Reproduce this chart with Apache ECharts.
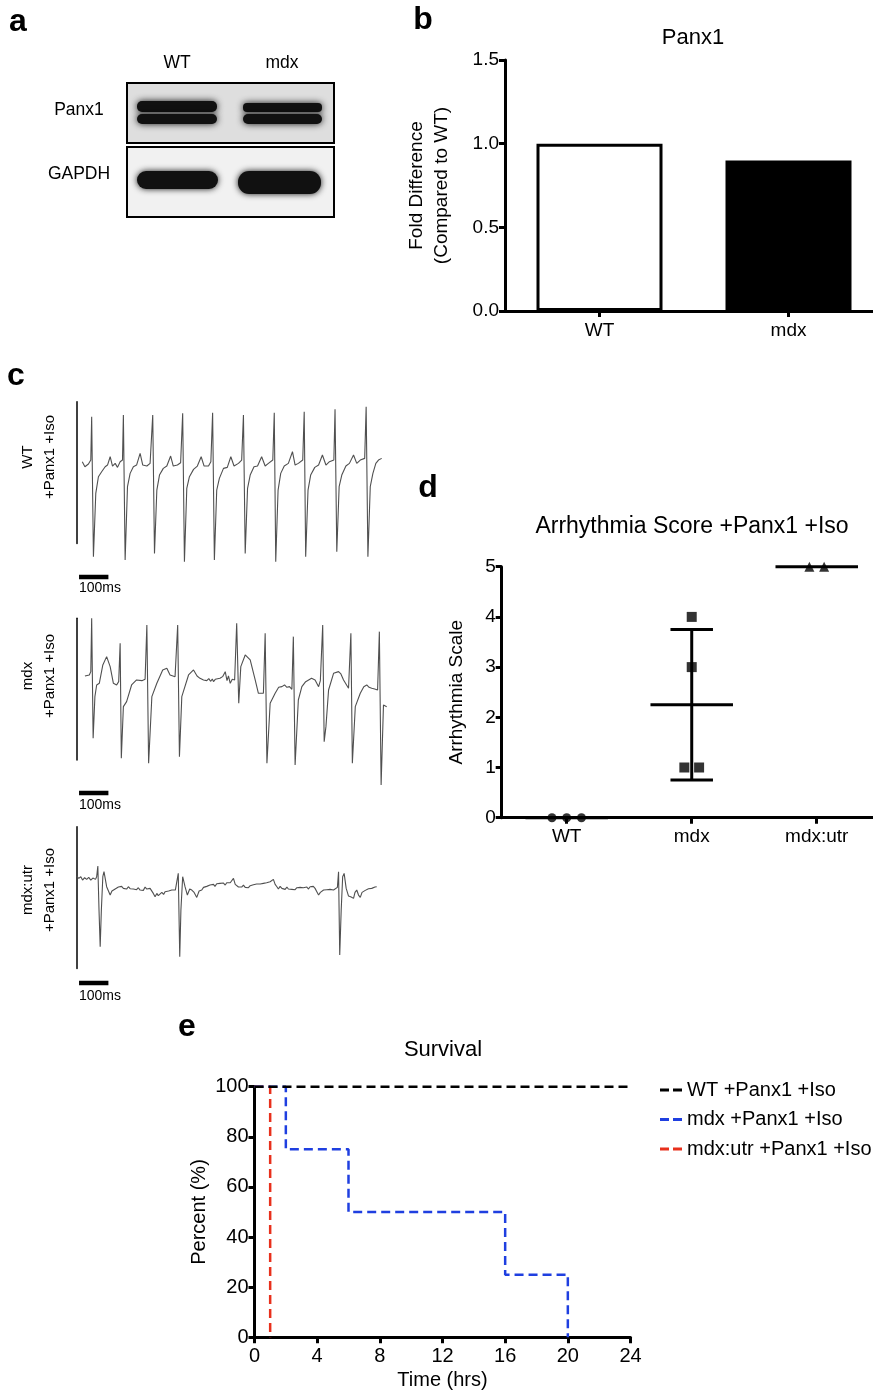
<!DOCTYPE html>
<html><head><meta charset="utf-8">
<script src="https://cdn.jsdelivr.net/npm/echarts@6.0.0/dist/echarts.min.js"></script>
<style>html,body{margin:0;padding:0;background:#fff}#c{width:873px;height:1393px}</style>
</head><body><div id="c"></div>
<script>
// ---------------- DATA ----------------
const blotLanes = ['WT', 'mdx'];
const blotProteins = ['Panx1', 'GAPDH'];

const panx1Categories = ['WT', 'mdx'];
const panx1Fold = [1.0, 0.9];
const panx1Ticks = [0, 0.5, 1.0, 1.5];

const ecgNames = ['WT', 'mdx', 'mdx:utr'];
const ecgCondition = '+Panx1 +Iso';
// [time (ms), amplitude (a.u.)]
const ecgWT = [[19,0.05],[28,-0.10],[40,-0.02],[48,0.10],[51,1.40],[57,-2.80],[65,-0.90],[74,-0.40],[85,-0.25],[97,-0.10],[105,-0.05],[114,0.20],[122,-0.08],[131,0.00],[139,-0.12],[148,0.05],[156,0.10],[159,1.45],[165,-2.90],[173,-0.70],[182,-0.30],[193,-0.10],[204,-0.05],[216,0.30],[225,-0.05],[239,-0.08],[250,0.00],[256,0.05],[259,1.45],[265,-2.70],[273,-0.80],[282,-0.35],[295,-0.15],[307,-0.08],[320,0.22],[329,-0.08],[343,-0.05],[354,0.02],[358,0.05],[361,1.50],[367,-2.95],[375,-0.75],[384,-0.40],[398,-0.18],[411,-0.08],[424,0.20],[434,-0.08],[449,-0.08],[457,0.05],[460,0.05],[463,1.52],[469,-2.90],[477,-0.80],[486,-0.45],[500,-0.15],[513,-0.12],[525,0.20],[536,-0.08],[551,0.00],[562,0.10],[568,1.45],[574,-2.70],[582,-0.75],[591,-0.35],[604,-0.10],[616,-0.08],[630,0.20],[642,-0.08],[653,0.00],[668,0.10],[673,1.52],[678,-2.95],[686,-0.80],[695,-0.30],[707,-0.08],[721,0.00],[735,0.35],[744,-0.05],[755,0.00],[770,0.10],[775,1.55],[780,-2.80],[788,-0.80],[797,-0.35],[811,-0.12],[824,-0.05],[837,0.25],[849,-0.05],[861,0.05],[876,0.10],[880,1.62],[886,-2.65],[894,-0.70],[903,-0.35],[917,-0.08],[929,0.00],[943,0.25],[954,0.00],[966,0.10],[981,0.15],[986,1.70],[992,-2.80],[1000,-0.70],[1009,-0.30],[1019,0.00],[1028,0.10],[1039,0.15]];
const ecgMdx = [[28,0.12],[43,0.15],[48,0.25],[51,1.85],[56,-1.75],[62,-0.50],[68,-0.15],[77,-0.10],[89,0.45],[102,0.70],[114,0.40],[125,-0.10],[136,-0.15],[143,-0.05],[148,1.10],[152,-2.35],[159,-0.80],[170,-0.65],[187,-0.15],[204,0.00],[222,-0.02],[233,0.02],[239,1.65],[245,-2.50],[256,-0.50],[273,-0.10],[293,0.30],[307,0.35],[318,0.15],[335,0.10],[341,0.12],[344,1.65],[350,-2.30],[358,-0.50],[381,0.15],[398,0.30],[410,0.12],[420,0.05],[432,0.00],[443,-0.02],[450,0.04],[456,-0.04],[462,0.03],[466,-0.05],[472,0.02],[478,-0.03],[488,0.05],[497,0.10],[506,0.25],[512,-0.02],[517,0.12],[523,-0.10],[530,0.02],[538,0.00],[545,1.70],[552,-0.70],[559,0.40],[574,0.75],[591,0.60],[608,0.00],[619,-0.40],[636,-0.40],[642,1.40],[648,-2.50],[659,-0.70],[676,-0.40],[688,-0.22],[699,-0.20],[708,-0.15],[716,-0.22],[725,-0.20],[733,-0.28],[738,1.30],[744,-2.55],[755,-0.60],[767,-0.20],[780,-0.05],[790,0.00],[800,0.05],[812,0.00],[818,-0.05],[824,-0.20],[830,-0.02],[835,0.00],[838,1.65],[843,-1.85],[849,-1.40],[858,-0.30],[875,0.20],[892,0.25],[900,0.18],[909,0.00],[926,-0.25],[932,-0.30],[934,1.40],[939,-2.50],[949,-0.80],[966,-0.40],[978,-0.20],[988,-0.15],[996,-0.22],[1005,-0.25],[1015,-0.27],[1025,-0.30],[1031,1.45],[1037,-3.15],[1045,-0.75],[1056,-0.80]];
const ecgUtr = [[0,0.37],[7,0.30],[14,0.35],[20,0.25],[27,0.32],[34,0.27],[41,0.33],[48,0.25],[55,0.31],[64,0.27],[68,0.35],[72,0.67],[76,-0.65],[80,-1.75],[84,-0.65],[89,0.35],[93,0.50],[102,0.05],[114,-0.20],[120,-0.08],[125,-0.12],[131,-0.02],[136,-0.06],[142,0.04],[148,0.00],[153,0.06],[159,0.00],[165,0.04],[170,-0.02],[176,0.05],[182,-0.01],[187,0.04],[193,-0.02],[199,0.02],[204,-0.04],[210,0.02],[216,-0.05],[222,-0.02],[227,-0.06],[233,0.04],[239,-0.02],[245,0.03],[250,0.00],[256,0.03],[261,-0.15],[267,-0.25],[273,-0.15],[278,-0.22],[284,-0.18],[290,-0.12],[296,-0.18],[301,-0.10],[307,-0.15],[313,-0.08],[318,-0.12],[324,-0.05],[329,-0.09],[336,-0.05],[341,-0.05],[346,0.45],[351,-2.05],[355,-0.65],[361,0.35],[369,0.05],[377,-0.20],[385,-0.02],[392,-0.05],[400,-0.12],[409,-0.27],[417,-0.08],[426,-0.05],[432,0.03],[438,-0.02],[443,0.06],[449,0.02],[454,0.10],[460,0.05],[466,0.12],[471,0.06],[477,0.14],[483,0.09],[488,0.15],[494,0.10],[500,0.16],[506,0.10],[511,0.17],[517,0.12],[523,0.17],[528,0.12],[534,0.30],[540,0.12],[545,0.10],[551,0.04],[557,0.09],[562,0.04],[568,0.10],[574,0.03],[579,0.07],[585,0.02],[591,0.08],[596,0.04],[602,0.11],[608,0.06],[613,0.13],[619,0.08],[625,0.13],[630,0.09],[636,0.15],[642,0.10],[647,0.17],[653,0.12],[659,0.20],[664,0.16],[670,0.27],[676,0.12],[682,0.05],[687,-0.02],[693,0.06],[699,0.00],[704,0.03],[710,-0.03],[716,0.04],[721,-0.02],[727,0.03],[733,-0.03],[738,0.02],[744,-0.04],[750,0.02],[755,-0.03],[761,0.03],[767,-0.02],[772,0.02],[778,-0.03],[784,0.04],[789,-0.02],[795,0.05],[801,0.00],[806,0.06],[812,0.00],[818,-0.10],[824,-0.20],[830,-0.12],[835,-0.15],[841,-0.05],[846,-0.10],[852,-0.04],[858,-0.08],[863,-0.03],[869,-0.07],[875,-0.05],[881,-0.01],[888,0.03],[892,0.50],[896,-2.00],[901,-0.65],[906,0.35],[911,0.45],[918,0.00],[926,-0.23],[935,-0.26],[943,-0.30],[948,-0.12],[954,-0.05],[960,-0.20],[966,-0.27],[972,-0.12],[977,-0.15],[983,-0.06],[988,-0.05],[994,-0.01],[1000,-0.06],[1005,0.00],[1011,-0.03],[1016,0.04],[1022,0.05]];
const ecgScaleBarMs = [8, 108];

const arrhythmiaGroups = ['WT', 'mdx', 'mdx:utr'];
const arrhythmiaWT = [0, 0, 0];
const arrhythmiaMdx = [4, 3, 1, 1];
const arrhythmiaUtr = [5, 5];
const arrhythmiaTicks = [0, 1, 2, 3, 4, 5];

const survivalNames = ['WT +Panx1 +Iso', 'mdx +Panx1 +Iso', 'mdx:utr +Panx1 +Iso'];
const survivalWTTime = [0, 24];
const survivalWTPct = [100, 100];
const survivalMdxTime = [0, 2, 6, 16, 20];
const survivalMdxPct = [100, 75, 50, 25, 0];
const survivalUtrTime = [0, 1];
const survivalUtrPct = [100, 0];
const survivalTimeTicks = [0, 4, 8, 12, 16, 20, 24];
const survivalPctTicks = [0, 20, 40, 60, 80, 100];

// ---------------- HELPERS ----------------
const FONT = 'Liberation Sans, Arial, sans-serif';
const BLACK = '#000';
function zip(a, b) { return a.map((v, i) => [v, b[i]]); }
function spread(values, center, step) {
  const counts = {}, idx = {};
  values.forEach(v => counts[v] = (counts[v] || 0) + 1);
  return values.map(v => {
    const n = counts[v]; const k = idx[v] || 0; idx[v] = k + 1;
    return [center + (k - (n - 1) / 2) * step, v];
  });
}
function stats(values) {
  const n = values.length;
  const m = values.reduce((a, b) => a + b, 0) / n;
  const sd = n > 1 ? Math.sqrt(values.reduce((a, b) => a + (b - m) * (b - m), 0) / (n - 1)) : 0;
  return [m, sd];
}
const axisLineS = { show: true, lineStyle: { color: BLACK, width: 3 } };
const axisTickS = { show: true, inside: false, length: 6, lineStyle: { color: BLACK, width: 3 } };
const labelS = (extra) => Object.assign({ color: BLACK, fontSize: 19, fontFamily: FONT }, extra || {});
const noSplit = { show: false };
function txt(x, y, text, size, opts) {
  return Object.assign({
    type: 'text', x: x, y: y,
    style: Object.assign({ text: text, fill: BLACK, font: (opts && opts.weight ? opts.weight + ' ' : '') + size + 'px ' + FONT,
      align: 'center', verticalAlign: 'middle' }, opts && opts.style || {})
  }, opts && opts.el || {});
}

// ---------------- LAYOUT ----------------
const grids = [
  { left: 505, top: 60, width: 378, height: 251 },          // b
  { left: 76.7, top: 401.7, width: 310, height: 141.7 },    // c WT
  { left: 76.7, top: 618.3, width: 310, height: 141.7 },    // c mdx
  { left: 76.7, top: 826.7, width: 310, height: 141.7 },    // c utr
  { left: 501.7, top: 566.7, width: 371.3, height: 251 },   // d
  { left: 254.5, top: 1086.7, width: 376, height: 250.6 }   // e
].map(g => Object.assign({ containLabel: false, outerBoundsMode: 'none' }, g));

const xAxes = [], yAxes = [], series = [];

// b
xAxes.push({ gridIndex: 0, type: 'category', data: panx1Categories, boundaryGap: true,
  axisLine: axisLineS, axisTick: Object.assign({ alignWithLabel: true }, axisTickS), axisLabel: labelS({ margin: 10 }), splitLine: noSplit });
yAxes.push({ gridIndex: 0, type: 'value', min: panx1Ticks[0], max: panx1Ticks[panx1Ticks.length - 1], interval: panx1Ticks[1] - panx1Ticks[0],
  axisLine: axisLineS, axisTick: axisTickS, axisLabel: labelS({ margin: 6, formatter: v => v.toFixed(1) }), splitLine: noSplit,
  name: 'Fold Difference\n(Compared to WT)', nameLocation: 'middle', nameGap: 51, nameRotate: 90,
  nameTextStyle: { color: BLACK, fontSize: 19, fontFamily: FONT, lineHeight: 25 } });
series.push({ type: 'bar', xAxisIndex: 0, yAxisIndex: 0, barWidth: 126, animation: false,
  data: panx1Fold.map((v, i) => ({ value: v, itemStyle: { color: i === 0 ? '#fff' : '#000', borderColor: BLACK, borderWidth: 3 } })) });

// c
const ecgData = [ecgWT, ecgMdx, ecgUtr];
const scaleBarLevel = [-3.41, -3.39, -2.84];
ecgData.forEach((d, i) => {
  const gi = i + 1;
  xAxes.push({ gridIndex: gi, type: 'value', min: 0, max: 1056, show: false });
  yAxes.push({ gridIndex: gi, type: 'value', min: -2.4, max: 1.85, offset: 19,
    axisLine: { show: true, lineStyle: { color: BLACK, width: 1.5 } }, axisTick: { show: false }, axisLabel: { show: false }, splitLine: noSplit });
  series.push({ type: 'line', xAxisIndex: gi, yAxisIndex: gi, data: d, showSymbol: false, symbol: 'none', clip: false, sampling: null,
    lineStyle: { color: '#505050', width: 1.1 }, animation: false });
  series.push({ type: 'line', xAxisIndex: gi, yAxisIndex: gi, data: ecgScaleBarMs.map(t => [t, scaleBarLevel[i]]), showSymbol: false, symbol: 'none', clip: false,
    lineStyle: { color: BLACK, width: 4.5, cap: 'butt' }, animation: false });
});

// d
const dGi = 4;
xAxes.push({ gridIndex: dGi, type: 'value', min: 0.48, max: 3.45,
  axisLine: axisLineS,
  axisTick: Object.assign({ customValues: [1, 2, 3] }, axisTickS),
  axisLabel: labelS({ margin: 10, customValues: [1, 2, 3], formatter: v => arrhythmiaGroups[Math.round(v) - 1] || '' }),
  splitLine: noSplit });
yAxes.push({ gridIndex: dGi, type: 'value', min: arrhythmiaTicks[0], max: arrhythmiaTicks[arrhythmiaTicks.length - 1], interval: 1,
  axisLine: axisLineS, axisTick: axisTickS, axisLabel: labelS({ margin: 6 }), splitLine: noSplit,
  name: 'Arrhythmia Scale', nameLocation: 'middle', nameGap: 35, nameRotate: 90,
  nameTextStyle: { color: BLACK, fontSize: 19, fontFamily: FONT } });
const groupsD = [arrhythmiaWT, arrhythmiaMdx, arrhythmiaUtr];
const symbolsD = ['circle', 'rect', 'triangle'];
const sizesD = [9, 10, 10];
series.push({ type: 'custom', xAxisIndex: dGi, yAxisIndex: dGi, clip: false, z: 3, animation: false,
  data: groupsD.map((g, i) => { const s = stats(g); return [i + 1, s[0], s[1]]; }),
  renderItem: function (params, api) {
    const x = api.value(0), m = api.value(1), sd = api.value(2);
    const L = (x1, y1, x2, y2) => { const p1 = api.coord([x1, y1]), p2 = api.coord([x2, y2]);
      return { type: 'line', shape: { x1: p1[0], y1: p1[1], x2: p2[0], y2: p2[1] }, style: { stroke: BLACK, lineWidth: 3 } }; };
    const ch = [L(x - 0.33, m, x + 0.33, m)];
    if (sd > 0) {
      ch.push(L(x, m - sd, x, m + sd));
      ch.push(L(x - 0.17, m + sd, x + 0.17, m + sd));
      ch.push(L(x - 0.17, m - sd, x + 0.17, m - sd));
    }
    return { type: 'group', children: ch };
  } });
groupsD.forEach((g, i) => {
  series.push({ type: 'scatter', xAxisIndex: dGi, yAxisIndex: dGi, clip: false, z: 5, animation: false,
    symbol: symbolsD[i], symbolSize: sizesD[i], itemStyle: { color: BLACK },
    data: spread(g, i + 1, 0.118) });
});

// e
const eGi = 5;
xAxes.push({ gridIndex: eGi, type: 'value', min: survivalTimeTicks[0], max: survivalTimeTicks[survivalTimeTicks.length - 1], interval: 4,
  axisLine: axisLineS, axisTick: axisTickS, axisLabel: labelS({ fontSize: 20, margin: 9 }), splitLine: noSplit,
  name: 'Time (hrs)', nameLocation: 'middle', nameGap: 33, nameTextStyle: { color: BLACK, fontSize: 20, fontFamily: FONT } });
yAxes.push({ gridIndex: eGi, type: 'value', min: survivalPctTicks[0], max: survivalPctTicks[survivalPctTicks.length - 1], interval: 20,
  axisLine: axisLineS, axisTick: axisTickS, axisLabel: labelS({ fontSize: 20, margin: 6 }), splitLine: noSplit,
  name: 'Percent (%)', nameLocation: 'middle', nameGap: 45, nameRotate: 90,
  nameTextStyle: { color: BLACK, fontSize: 20, fontFamily: FONT } });
const survColors = ['#000000', '#1f3fe0', '#e8301c'];
const survData = [zip(survivalWTTime, survivalWTPct), zip(survivalMdxTime, survivalMdxPct), zip(survivalUtrTime, survivalUtrPct)];
const survOrder = [2, 1, 0];
survOrder.forEach(i => {
  series.push({ type: 'line', name: survivalNames[i], xAxisIndex: eGi, yAxisIndex: eGi, step: 'end', data: survData[i],
    symbol: 'none', showSymbol: false, clip: false, z: 3 + (2 - i), animation: false,
    lineStyle: { color: survColors[i], width: 2.5, type: [9, 5] }, itemStyle: { color: survColors[i] } });
});

// ---------------- GRAPHICS (labels, blot) ----------------
const graphics = [];
// panel letters
[['a', 18, 22], ['b', 423, 20], ['c', 16, 376], ['d', 428, 488], ['e', 187, 1027]].forEach(l =>
  graphics.push(txt(l[1], l[2], l[0], 32, { weight: 'bold' })));

// blot (panel a)
graphics.push({ type: 'rect', shape: { x: 127, y: 83, width: 207, height: 60 }, style: { fill: '#dedede', stroke: BLACK, lineWidth: 2 } });
graphics.push({ type: 'rect', shape: { x: 127, y: 147, width: 207, height: 70 }, style: { fill: '#f1f1f1', stroke: BLACK, lineWidth: 2 } });
const band = (x, y, w, h, r, blur) => ({ type: 'rect', shape: { x: x, y: y, width: w, height: h, r: r },
  style: { fill: '#111', shadowBlur: blur || 7, shadowColor: 'rgba(0,0,0,0.9)' } });
graphics.push(band(137, 101, 80, 11, 5), band(137, 114, 80, 10, 5));
graphics.push(band(243, 103, 79, 9, 4), band(243, 114, 79, 10, 5));
graphics.push(band(137, 171, 81, 18, 9, 6), band(238, 171, 83, 23, 11, 6));
graphics.push({ type: 'rect', shape: { x: 142, y: 112, width: 70, height: 2 }, style: { fill: 'rgba(110,110,110,0.6)' } });
graphics.push({ type: 'rect', shape: { x: 248, y: 112, width: 70, height: 2 }, style: { fill: 'rgba(110,110,110,0.6)' } });
blotLanes.forEach((n, i) => graphics.push(txt([177, 282][i], 63, n, 17.5)));
blotProteins.forEach((n, i) => graphics.push(txt(79, [110, 174][i], n, 17.5)));

// titles
graphics.push(txt(693, 38, 'Panx1', 22));
graphics.push(txt(692, 527, 'Arrhythmia Score +Panx1 +Iso', 23));
graphics.push(txt(443, 1050, 'Survival', 22));

// c labels
[457, 676, 890].forEach((cy, i) => {
  graphics.push({ type: 'text', x: 39, y: cy, rotation: Math.PI / 2,
    style: { text: ecgNames[i] + '\n' + ecgCondition, fill: BLACK, font: '15px ' + FONT, align: 'center', verticalAlign: 'middle', lineHeight: 22 } });
});
[588, 805, 996].forEach(y => graphics.push(txt(79, y, '100ms', 14, { style: { align: 'left' } })));

// ---------------- CHART ----------------
const chart = echarts.init(document.getElementById('c'), null, { renderer: 'canvas', width: 873, height: 1393 });
chart.setOption({
  animation: false,
  backgroundColor: '#fff',
  textStyle: { fontFamily: FONT },
  grid: grids,
  xAxis: xAxes,
  yAxis: yAxes,
  legend: {
    orient: 'vertical', left: 655, top: 1075, itemWidth: 22, itemHeight: 3, itemGap: 9.5,
    icon: 'path://M0,0H9V3H0Z M13,0H22V3H13Z',
    data: survivalNames,
    textStyle: { color: BLACK, fontSize: 20, fontFamily: FONT, lineHeight: 20 }
  },
  series: series,
  graphic: graphics
});
</script></body></html>
